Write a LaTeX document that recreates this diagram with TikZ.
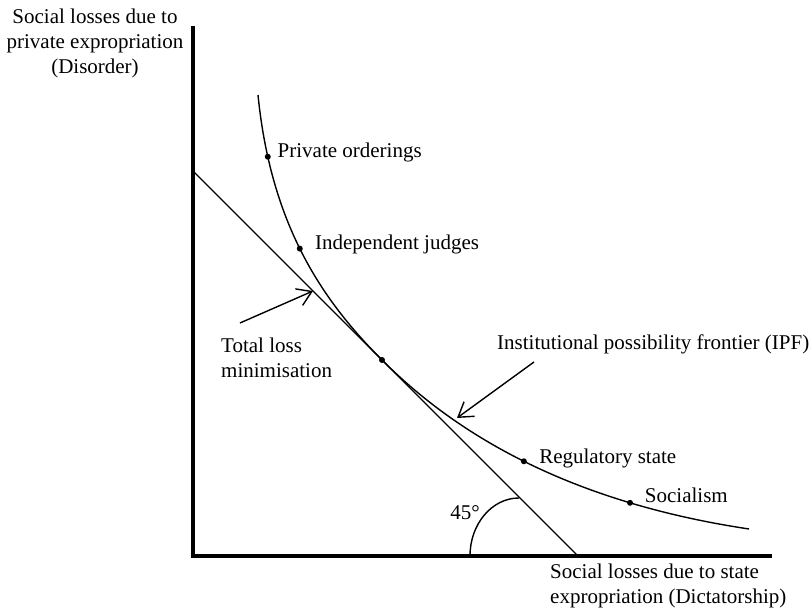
\documentclass[tikz,border=0pt]{standalone}
\usepackage{fontspec}
\setmainfont{Liberation Serif}
\usetikzlibrary{arrows.meta,positioning}
\begin{document}
\begin{tikzpicture}[x=1pt, y=1pt,
	every node/.style={font=\fontsize{21}{25}\selectfont, inner sep=0pt},
	axis/.style={line width=3.5pt},
	thin line/.style={line width=1.4pt},
	pointer/.style={line width=1.4pt, -{Straight Barb[length=14pt, width=18pt, line width=1.4pt]}},
	dot/.style={circle, fill, minimum size=6pt, inner sep=0pt}]
	\useasboundingbox (-193, -53) rectangle (619, 556);
	
	\coordinate (O) at (0, 0);
	\coordinate (Ytop) at (0, 530);
	\coordinate (Xend) at (579, 0);
	\coordinate (L1) at (0, 385);
	\coordinate (L2) at (385, 0);
	\coordinate (C0) at (65, 461);
	\coordinate (T) at (189, 196);
	\coordinate (C3) at (556, 27);
	\coordinate (TLstart) at (47, 233);
	\coordinate (TLtip) at (120, 265);
	\coordinate (IPFstart) at (341, 194);
	\coordinate (IPFtip) at (264, 138);
	
	\draw[axis] (Ytop) -- (O) -- (Xend);
	\draw[thin line] (L1) -- (L2);
	
	\draw[thin line] (C0) .. controls (78, 331) and (129, 256) .. (T)
		node[dot, pos=0.17] (po) {}
		node[dot, pos=0.48] (ij) {}
		.. controls (249, 136) and (356, 57) .. (C3)
		node[dot, pos=0.53] (rs) {}
		node[dot, pos=0.78] (so) {};
	\node[dot] (tp) at (T) {};
	
	\draw[thin line] (277, 0) arc[start angle=180, end angle=90, x radius=49, y radius=58];
	\node (angle) at (272, 43) {45°};
	
	\node[right=6pt of po, yshift=4pt] (poText) {Private orderings};
	\node[right=11.5pt of ij, yshift=4pt] (ijText) {Independent judges};
	\node[right=11.5pt of rs, yshift=3pt] (rsText) {Regulatory state};
	\node[right=11pt of so, yshift=7pt] (soText) {Socialism};
	
	\node[anchor=west, align=left] (tlText) at (28, 198) {Total loss\\minimisation};
	\node[anchor=west] (ipfText) at (304, 212) {Institutional possibility frontier (IPF)};
	\draw[pointer] (TLstart) -- (TLtip);
	\draw[pointer] (IPFstart) -- (IPFtip);
	
	\node[align=center] (yLabel) at (-98, 513) {Social losses due to\\private expropriation\\(Disorder)};
	\node[anchor=west, align=left] (xLabel) at (357, -29.5) {Social losses due to state\\expropriation (Dictatorship)};
\end{tikzpicture}
\end{document}
